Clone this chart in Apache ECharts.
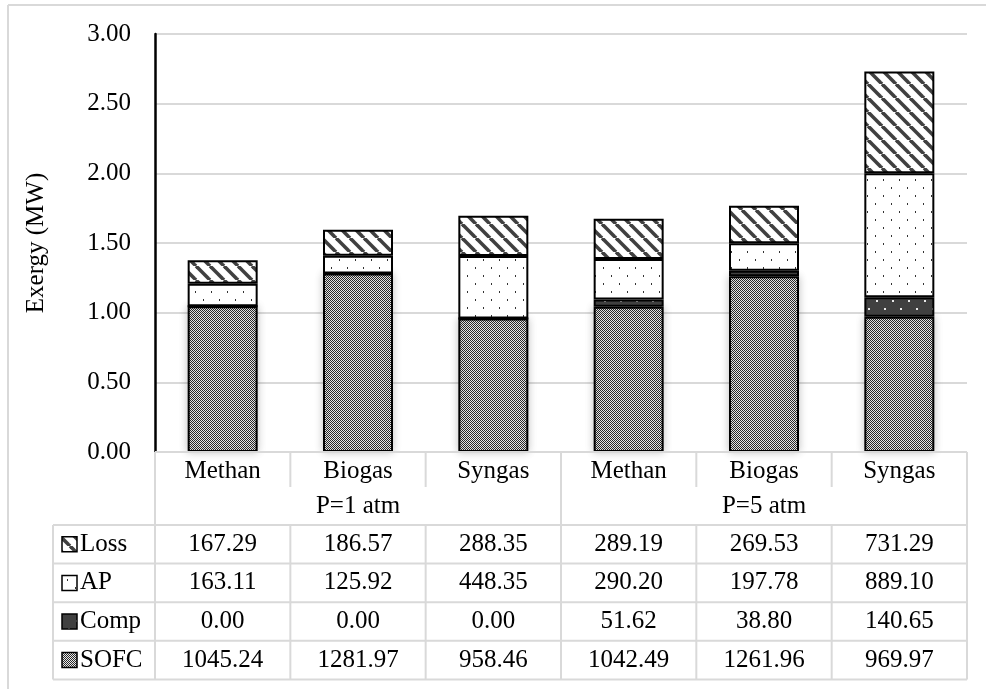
<!DOCTYPE html>
<html><head><meta charset="utf-8">
<script src="https://cdn.jsdelivr.net/npm/echarts@6/dist/echarts.min.js"></script>
<style>html,body{margin:0;padding:0;background:#fff}#c{width:986px;height:689px}</style>
</head><body><div id="c"></div>
<script>
// ---- data ----
const categories = ['Methan','Biogas','Syngas','Methan','Biogas','Syngas'];
const groups = ['P=1 atm','P=5 atm'];
const seriesNames = ['Loss','AP','Comp','SOFC'];   // table order (top to bottom)
const loss = [167.29,186.57,288.35,289.19,269.53,731.29];
const ap   = [163.11,125.92,448.35,290.20,197.78,889.10];
const comp = [0.00,0.00,0.00,51.62,38.80,140.65];
const sofc = [1045.24,1281.97,958.46,1042.49,1261.96,969.97];
const yTicks = [0,0.5,1,1.5,2,2.5,3];

// ---- patterns ----
function tile(w,h,draw){const c=document.createElement('canvas');c.width=w;c.height=h;const g=c.getContext('2d');draw(g,w,h);return c;}
const sofcTile = tile(2,2,(g)=>{g.fillStyle='#e8e8e8';g.fillRect(0,0,2,2);g.fillStyle='#2a2a2a';g.fillRect(0,0,1,1);g.fillRect(1,1,1,1);});
const apTile = tile(16,16,(g)=>{g.fillStyle='#fff';g.fillRect(0,0,16,16);g.fillStyle='#333';g.fillRect(3,3,1,2);g.fillRect(11,11,1,2);});
const compTile = tile(16,16,(g)=>{g.fillStyle='#404040';g.fillRect(0,0,16,16);g.fillStyle='#e8e8e8';g.fillRect(4,4,2,2);g.fillRect(12,12,2,2);});
const lossTile = tile(14,14,(g,w)=>{g.fillStyle='#fff';g.fillRect(0,0,w,w);g.strokeStyle='#404040';g.lineWidth=3.6;
  for(const x0 of [-w,0,w]){g.beginPath();g.moveTo(x0,0);g.lineTo(x0+w,w);g.stroke();}});
const pat = {
  Loss:{image:lossTile,repeat:'repeat'},
  AP:{image:apTile,repeat:'repeat'},
  Comp:{image:compTile,repeat:'repeat'},
  SOFC:{image:sofcTile,repeat:'repeat'}
};
const values = {Loss:loss, AP:ap, Comp:comp, SOFC:sofc};

const FONT = '"Liberation Serif","Times New Roman",serif';
const GRID = {left:155, right:19, top:34, bottom:237};

function barSeries(name, shadow){
  const st = {color:pat[name], borderColor:'#000', borderWidth:2};
  if(shadow){ st.shadowBlur = 8; st.shadowColor = 'rgba(0,0,0,0.22)'; }
  return {name, type:'bar', stack:'total', barWidth:70,
    data: values[name].map(v=>v/1000),
    itemStyle:st, emphasis:{disabled:true}};
}

const chart = echarts.init(document.getElementById('c'), null, {renderer:'canvas'});
chart.setOption({
  animation:false,
  backgroundColor:'#fff',
  grid:{left:GRID.left, right:GRID.right, top:GRID.top, bottom:GRID.bottom},
  xAxis:{type:'category', data:categories.map((c,i)=>c+'#'+i),
    axisLine:{show:false}, axisTick:{show:false}, axisLabel:{show:false}, splitLine:{show:false}},
  yAxis:{type:'value', min:yTicks[0], max:yTicks[yTicks.length-1], interval:0.5,
    name:'Exergy (MW)', nameLocation:'middle', nameGap:106, nameRotate:90,
    nameTextStyle:{fontFamily:FONT, fontSize:25, color:'#000'},
    axisLine:{show:true, lineStyle:{color:'#000', width:2.5}},
    axisTick:{show:false},
    axisLabel:{fontFamily:FONT, fontSize:25, color:'#000', margin:24, formatter:v=>v.toFixed(2)},
    splitLine:{lineStyle:{color:'#d9d9d9', width:2}}},
  series:[barSeries('SOFC', true), barSeries('Comp'), barSeries('AP'), barSeries('Loss')]
});

// ---- data table below the plot ----
const W = 986, H = 689;
const plotL = GRID.left, plotR = W - GRID.right, plotB = H - GRID.bottom;
const labelL = 53;
const catRowB = 488, grpRowB = 525, rowH = 38.6;
const colW = (plotR - plotL) / categories.length;
const gray = '#d9d9d9';
const els = [];
function line(x1,y1,x2,y2,color,w){els.push({type:'line',shape:{x1,y1,x2,y2},style:{stroke:color||gray,lineWidth:w||2},z:100});}
function text(x,y,s,align){els.push({type:'text',x,y,style:{text:s,fontFamily:FONT,fontSize:25,fill:'#000',align:align||'center',verticalAlign:'middle'},z:101});}

// outer frame
line(8,5,W,5); line(8,5,8,H);
// table horizontal lines
line(plotL,plotB,plotR,plotB);
const tableB = grpRowB + rowH*seriesNames.length;
for(let r=0;r<=seriesNames.length;r++){const y=grpRowB+rowH*r; line(labelL,y,plotR,y);}
// vertical lines
line(plotL,plotB,plotL,tableB);
line(plotR,plotB,plotR,tableB);
line(labelL,grpRowB,labelL,tableB);
for(let i=1;i<categories.length;i++){
  const x = plotL + colW*i;
  if(i === categories.length/2){ line(x,plotB,x,tableB); }
  else { line(x,plotB,x,catRowB-1); line(x,grpRowB,x,tableB); }
}
// category names & group names
categories.forEach((c,i)=>{
  const x = chart.convertToPixel({xAxisIndex:0}, i);
  text(x,(plotB+catRowB)/2+1,c);
});
const perGroup = categories.length/groups.length;
groups.forEach((g,j)=>{
  const x = plotL + colW*perGroup*(j+0.5);
  text(x,(catRowB+grpRowB)/2,g);
});
// data rows
seriesNames.forEach((name,r)=>{
  const yc = grpRowB + rowH*(r+0.5);
  els.push({type:'rect',shape:{x:62,y:yc-7.5,width:15,height:15},style:{fill:pat[name],stroke:'#000',lineWidth:1.5},z:101});
  text(80,yc,name,'left');
  values[name].forEach((v,i)=>{
    const x = chart.convertToPixel({xAxisIndex:0}, i);
    text(x,yc,v.toFixed(2));
  });
});
chart.setOption({graphic:{elements:els}});
</script></body></html>
